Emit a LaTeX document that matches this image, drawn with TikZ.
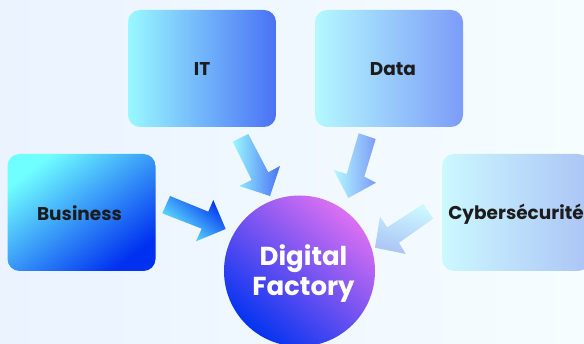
\documentclass[tikz,border=0pt]{standalone}
\usepackage{fontspec}
\setmainfont{Poppins}
\definecolor{bgl}{HTML}{EAF3FF}
\definecolor{bgr}{HTML}{F6FDFF}
\definecolor{busa}{HTML}{70FFFF}
\definecolor{busb}{HTML}{0030F0}
\definecolor{ita}{HTML}{99F8FF}
\definecolor{itb}{HTML}{4A72F5}
\definecolor{daa}{HTML}{B4F8FF}
\definecolor{dab}{HTML}{7C9CF8}
\definecolor{cya}{HTML}{CCF8FF}
\definecolor{cyb}{HTML}{ABC4F5}
\definecolor{cira}{HTML}{DC70F2}
\definecolor{cirb}{HTML}{0434F0}
\definecolor{ink}{HTML}{1C1C1C}
% #1 horizontal offset, #2 baseline below the centre, #3 text
\newcommand{\cardtext}[3]{\hspace*{#1}\raisebox{-#2}[0pt][0pt]{#3}}
\tikzset{
  x=1pt,y=-1pt,
  card/.style={rounded corners=12pt,minimum width=148pt,minimum height=117pt,inner sep=0pt,
    font=\fontsize{18.5}{22}\selectfont\bfseries,text=ink},
}
\begin{document}
\begin{tikzpicture}
\useasboundingbox (0,0) rectangle (584,344);
\shade[left color=bgl,right color=bgr] (0,0) rectangle (584,344);
\clip (0,0) rectangle (584,344);
\node[card,top color=busa,bottom color=busb,shading angle=38] (business) at (81.5,212.5) {\cardtext{-4pt}{8.2pt}{Business}};
\node[card,left color=ita,right color=itb] (it) at (202,68.5) {\cardtext{0pt}{7.5pt}{IT}};
\node[card,left color=daa,right color=dab] (data) at (389,68.5) {\cardtext{8pt}{7.5pt}{Data}};
\node[card,left color=cya,right color=cyb] (cyber) at (516,212.5) {\cardtext{0pt}{6.8pt}{Cybersécurité}};
\node[circle,minimum size=151pt,inner sep=0pt,top color=cira,bottom color=cirb,shading angle=-40] (factory) at (299.5,271) {};
\node[text=white,align=center,font=\fontsize{26}{30}\selectfont\bfseries] (factorylabel) at (303.5,273.5) {Digital\\Factory};
% block arrows
\shade[top color=busb,bottom color=busa,shading angle=-40]
  (170,196)--(208.3,211.7)--(213.3,200)--(225.7,229)--(196,241.3)--(201.7,228.7)--(162.3,213.3)--cycle;
\shade[left color=ita,right color=itb]
  (248.3,134)--(268.3,172.3)--(280,166)--(270,196)--(239.3,186)--(251.7,180)--(232.7,141.7)--cycle;
\shade[left color=daa,right color=dab]
  (358.7,133.3)--(375.7,139)--(364.3,176.7)--(376,182.7)--(348.3,198)--(333.7,170)--(346.7,174)--cycle;
\shade[top color=cya,bottom color=cyb,shading angle=-15]
  (423.3,204)--(433.3,218.7)--(399,242.7)--(405.7,254)--(375,247.7)--(380,216.7)--(387.3,227.3)--cycle;
\end{tikzpicture}
\end{document}
